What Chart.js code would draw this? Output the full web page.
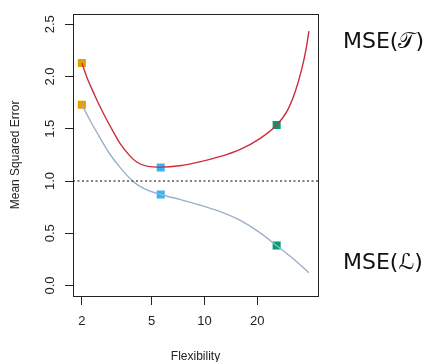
<!DOCTYPE html>
<html>
<head>
<meta charset="utf-8">
<script src="https://cdn.jsdelivr.net/npm/chart.js@4.4.1/dist/chart.umd.min.js"></script>
<style>
  html, body { margin: 0; padding: 0; background: #fff; }
  #wrap { width: 433px; height: 362px; position: relative; }
</style>
</head>
<body>
<div id="wrap"><canvas id="chart"></canvas></div>
<script>
"use strict";

// Test MSE curve (x = flexibility, log axis).
const TEST_FLEX = [2, 2.127, 2.363, 2.524, 2.804, 3.074, 3.283, 3.745, 4.106, 4.746, 5.63, 7.23, 9.4, 12.2, 15.9, 20.7, 25.8, 29.4, 32.8, 35.8, 37.9, 39.4];
const TEST_MSE = [2.13, 2.001, 1.823, 1.720, 1.570, 1.449, 1.364, 1.243, 1.182, 1.140, 1.133, 1.146, 1.183, 1.233, 1.301, 1.406, 1.536, 1.661, 1.848, 2.066, 2.254, 2.434];

// Training MSE curve.
const TRAIN_FLEX = [2, 2.213, 2.524, 2.879, 3.283, 3.896, 4.561, 5.63, 7.23, 9.4, 12.2, 15.9, 20.7, 25.8, 32.1, 39.4];
const TRAIN_MSE = [1.73, 1.589, 1.420, 1.261, 1.135, 0.999, 0.924, 0.871, 0.824, 0.771, 0.709, 0.625, 0.506, 0.381, 0.257, 0.122];

// The three highlighted fits.
const MARK_FLEX = [2, 5.63, 25.8];
const MARK_TEST = [2.13, 1.13, 1.536];
const MARK_TRAIN = [1.73, 0.871, 0.384];
const MARK_COLORS = ["#E69F00", "#33B5F7", "#009E73"];

const REF_LEVEL = 1.0;
const X_TICKS = [2, 5, 10, 20];
const Y_TICKS = [0, 0.5, 1, 1.5, 2, 2.5];
const X_RANGE = [1.78, 44.4];
const Y_RANGE = [-0.1, 2.6];

const LABEL_TEST = "MSE(𝒯)";
const LABEL_TRAIN = "MSE(ℒ)";

const INK = "#222";
const FONT = "'Liberation Sans', Arial, Helvetica, sans-serif";

const pts = (xs, ys) => xs.map((x, i) => ({ x, y: ys[i] }));

// Box around the plot region plus the two curve labels in the right margin.
const frame = {
  id: "frame",
  afterDraw(chart) {
    const { ctx, chartArea: a } = chart;
    ctx.save();
    ctx.strokeStyle = INK;
    ctx.lineWidth = 1;
    ctx.strokeRect(Math.round(a.left) + 0.5, Math.round(a.top) + 0.5,
      Math.round(a.right - a.left), Math.round(a.bottom - a.top));

    ctx.fillStyle = "#111";
    ctx.font = "22px 'DejaVu Sans', 'Liberation Sans', sans-serif";
    ctx.textBaseline = "middle";
    ctx.textAlign = "left";
    ctx.fillText(LABEL_TEST, a.right + 25, 42);
    ctx.fillText(LABEL_TRAIN, a.right + 25, 263);
    ctx.restore();
  },
};

const ctx = document.getElementById("chart");
new Chart(ctx, {
  type: "line",
  data: {
    datasets: [
      {
        label: "ref",
        data: pts(X_RANGE, [REF_LEVEL, REF_LEVEL]),
        borderColor: "#555",
        borderWidth: 1.5,
        borderDash: [2, 2.5],
        pointRadius: 0,
      },
      {
        label: "test",
        data: pts(TEST_FLEX, TEST_MSE),
        borderColor: "#CD2E3A",
        borderWidth: 1.4,
        pointRadius: 0,
        cubicInterpolationMode: "monotone",
      },
      {
        label: "train",
        data: pts(TRAIN_FLEX, TRAIN_MSE),
        borderColor: "#9DB0CB",
        borderWidth: 1.4,
        pointRadius: 0,
        cubicInterpolationMode: "monotone",
      },
      {
        label: "test marks",
        data: pts(MARK_FLEX, MARK_TEST),
        showLine: false,
        pointStyle: "rect",
        pointRadius: 5.7,
        pointBorderWidth: 0,
        pointBackgroundColor: MARK_COLORS,
      },
      {
        label: "train marks",
        data: pts(MARK_FLEX, MARK_TRAIN),
        showLine: false,
        pointStyle: "rect",
        pointRadius: 5.7,
        pointBorderWidth: 0,
        pointBackgroundColor: MARK_COLORS,
      },
    ],
  },
  options: {
    responsive: true,
    maintainAspectRatio: false,
    animation: false,
    layout: { padding: { top: 7, right: 115, left: 0, bottom: 0 } },
    plugins: { legend: { display: false }, tooltip: { enabled: false } },
    scales: {
      x: {
        type: "logarithmic",
        min: X_RANGE[0],
        max: X_RANGE[1],
        afterBuildTicks: (s) => { s.ticks = X_TICKS.map((v) => ({ value: v })); },
        afterFit: (s) => { s.height = 66; },
        ticks: {
          color: INK,
          font: { family: FONT, size: 13 },
          padding: 9,
          maxRotation: 0,
          callback: (v) => String(v),
        },
        grid: { drawOnChartArea: false, drawTicks: true, tickLength: 9, color: INK },
        border: { display: false },
        title: {
          display: true,
          text: "Flexibility",
          color: INK,
          font: { family: FONT, size: 12 },
          padding: { top: 0, bottom: -2 },
        },
      },
      y: {
        min: Y_RANGE[0],
        max: Y_RANGE[1],
        afterBuildTicks: (s) => { s.ticks = Y_TICKS.map((v) => ({ value: v })); },
        afterFit: (s) => { s.width = 73; },
        ticks: {
          color: INK,
          font: { family: FONT, size: 13 },
          minRotation: 90,
          maxRotation: 90,
          crossAlign: "center",
          padding: 6,
          callback: (v) => v.toFixed(1),
        },
        grid: { drawOnChartArea: false, drawTicks: true, tickLength: 8, color: INK },
        border: { display: false },
        title: {
          display: true,
          text: "Mean Squared Error",
          color: INK,
          font: { family: FONT, size: 12 },
          padding: { top: 8, bottom: 0 },
        },
      },
    },
  },
  plugins: [frame],
});
</script>
</body>
</html>
